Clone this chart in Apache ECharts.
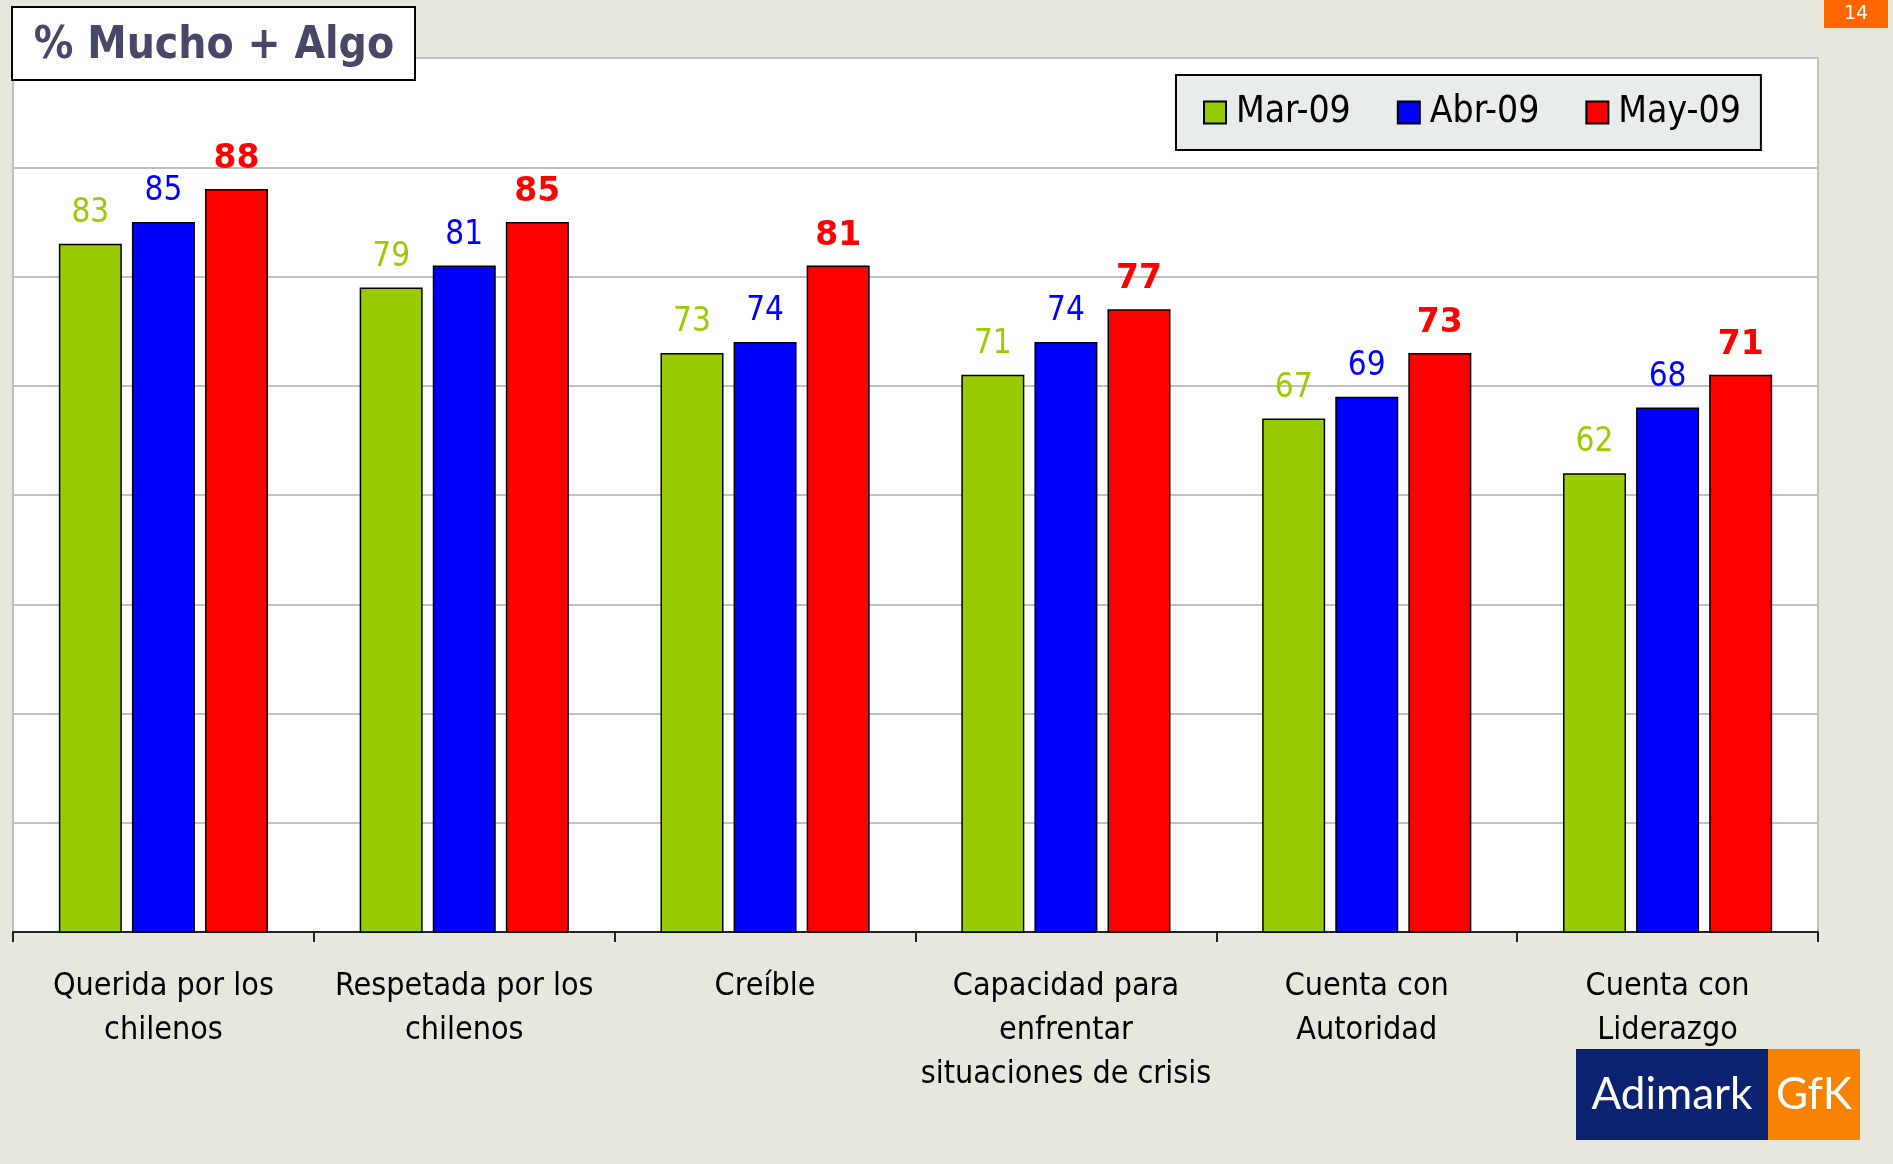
<!DOCTYPE html>
<html>
<head>
<meta charset="utf-8">
<script src="https://cdn.jsdelivr.net/npm/echarts@6/dist/echarts.min.js"></script>
<style>
html,body{margin:0;padding:0;background:#e7e7dd;}
#chart{width:1893px;height:1164px;}
</style>
</head>
<body>
<div id="chart"></div>
<script>
var categories = [
  "Querida por los\nchilenos",
  "Respetada por los\nchilenos",
  "Creíble",
  "Capacidad para\nenfrentar\nsituaciones de crisis",
  "Cuenta con\nAutoridad",
  "Cuenta con\nLiderazgo"
];
var seriesNames = ["Mar-09", "Abr-09", "May-09"];
var mar09 = [83, 79, 73, 71, 67, 62];
var abr09 = [85, 81, 74, 74, 69, 68];
var may09 = [88, 85, 81, 77, 73, 71];
var titleText = "% Mucho + Algo";
var pageNumber = "14";

var COND = "'DejaVu Sans Condensed', 'Liberation Sans Narrow', sans-serif";
var chart = echarts.init(document.getElementById('chart'), null, {renderer: 'canvas'});

function barSeries(name, data, color, bold) {
  return {
    name: name,
    type: 'bar',
    data: data,
    barWidth: 63,
    barGap: '16%',
    itemStyle: {color: color, borderColor: '#000', borderWidth: 1.5},
    label: {
      show: true,
      position: 'top',
      distance: bold ? 13 : 14,
      color: color,
      fontSize: 33,
      fontWeight: bold ? 'bold' : 'normal',
      fontFamily: bold ? "'DejaVu Sans', sans-serif" : COND
    }
  };
}

var option = {
  backgroundColor: '#e7e7dd',
  animation: false,
  grid: {
    left: 13, right: 75, top: 58, bottom: 232,
    show: true, backgroundColor: '#ffffff', borderColor: '#c0c0c0', borderWidth: 2
  },
  legend: {
    data: seriesNames,
    left: 1176, top: 75,
    orient: 'horizontal',
    backgroundColor: '#e9ecec',
    borderColor: '#000', borderWidth: 2,
    padding: [19, 20, 19, 27],
    itemWidth: 22, itemHeight: 22, itemGap: 46,
    icon: 'rect',
    textStyle: {fontSize: 37, color: '#000', fontFamily: COND, padding: [4, 0, 0, 5]}
  },
  xAxis: {
    type: 'category',
    data: categories,
    axisLine: {show: true, lineStyle: {color: '#222', width: 2}},
    axisTick: {show: true, length: 10, lineStyle: {color: '#222', width: 2}},
    axisLabel: {
      interval: 0, margin: 33,
      fontSize: 32, lineHeight: 44, color: '#000', fontFamily: COND
    }
  },
  yAxis: {
    type: 'value',
    min: 20, max: 100, interval: 10,
    axisLabel: {show: false},
    axisLine: {show: false}, axisTick: {show: false},
    splitLine: {show: true, lineStyle: {color: '#c0c0c0', width: 2}}
  },
  series: [
    barSeries(seriesNames[0], mar09, '#99cc00', false),
    barSeries(seriesNames[1], abr09, '#0000ff', false),
    barSeries(seriesNames[2], may09, '#ff0000', true)
  ],
  graphic: [
    {type: 'rect', shape: {x: 12, y: 7, width: 403, height: 73},
     style: {fill: '#ffffff', stroke: '#000', lineWidth: 2}, z: 100},
    {type: 'text', x: 214, y: 47, z: 101,
     style: {text: titleText, fill: '#474768', font: "bold 44px 'DejaVu Sans Condensed', 'DejaVu Sans', sans-serif",
             textAlign: 'center', textVerticalAlign: 'middle'}},
    {type: 'rect', shape: {x: 1824, y: 0, width: 64, height: 28}, style: {fill: '#ff6600'}, z: 100},
    {type: 'text', x: 1856, y: 14, z: 101,
     style: {text: pageNumber, fill: '#ffffff', font: "19px 'DejaVu Sans', sans-serif",
             textAlign: 'center', textVerticalAlign: 'middle'}},
    {type: 'rect', shape: {x: 1576, y: 1049, width: 192, height: 91}, style: {fill: '#0b2270'}, z: 100},
    {type: 'rect', shape: {x: 1768, y: 1049, width: 92, height: 91}, style: {fill: '#f58200'}, z: 100},
    {type: 'text', x: 1672, y: 1095, z: 101,
     style: {text: 'Adimark', fill: '#ffffff', font: "44px Lato, 'Open Sans', sans-serif",
             textAlign: 'center', textVerticalAlign: 'middle'}},
    {type: 'text', x: 1814, y: 1095, z: 101,
     style: {text: 'GfK', fill: '#ffffff', font: "44px Lato, 'Open Sans', sans-serif",
             textAlign: 'center', textVerticalAlign: 'middle'}}
  ]
};
chart.setOption(option);
</script>
</body>
</html>
